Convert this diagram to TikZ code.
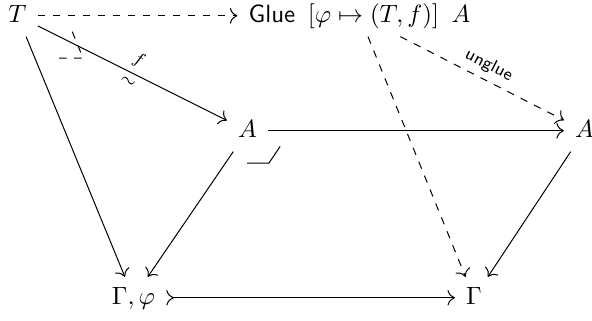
\documentclass[tikz,border=0pt]{standalone}
\usetikzlibrary{arrows.meta}
\begin{document}
\begin{tikzpicture}[x=0.4pt,y=-0.4pt,
  obj/.style={anchor=base, inner xsep=1ex, inner ysep=0.85ex, text height=7pt, text depth=2pt},
  arr/.style={-{To[scale=1.2]}},
  monoarr/.style={{To[scale=1.2,reversed]}-{To[scale=1.2]}},
  lbl/.style={font=\scriptsize, inner sep=2.5pt, sloped, midway}]
\useasboundingbox (0,0) rectangle (592,320);
% objects
\node[obj] (T)  at (17.5,22)  {$T$};
\node[obj] (G)  at (359.5,22) {$\textsf{Glue}\hspace{5pt}[\varphi \mapsto (T, f)]\hspace{5pt}A$};
\node[obj] (A1) at (247.5,137) {$A$};
\node[obj] (A2) at (584.5,137) {$A$};
\node[obj] (GP) at (133.5,304) {$\Gamma, \varphi$};
\node[obj] (Gm) at (474,304)   {$\Gamma$};
% arrows
\draw[arr, dashed] (T) -- (G);
\draw[arr] (T) -- (A1) node[lbl, above] {$f$} node[lbl, below] {$\sim$};
\draw[arr] (T) -- (GP);
\draw[arr] (A1) -- (A2);
\draw[arr] (A1) -- (GP);
\draw[arr] (A2) -- (Gm);
\draw[monoarr] (GP) -- (Gm);
\draw[arr, dashed] (G) -- (A2) node[lbl, above] {\textsf{unglue}};
\draw[arr, dashed] (G) -- (Gm);
% pullback corners
\draw (247,163) -- (269,163) -- (280.2,146.4);
\draw[dashed] (59,58) -- (83,58) -- (72,31);
\end{tikzpicture}
\end{document}
